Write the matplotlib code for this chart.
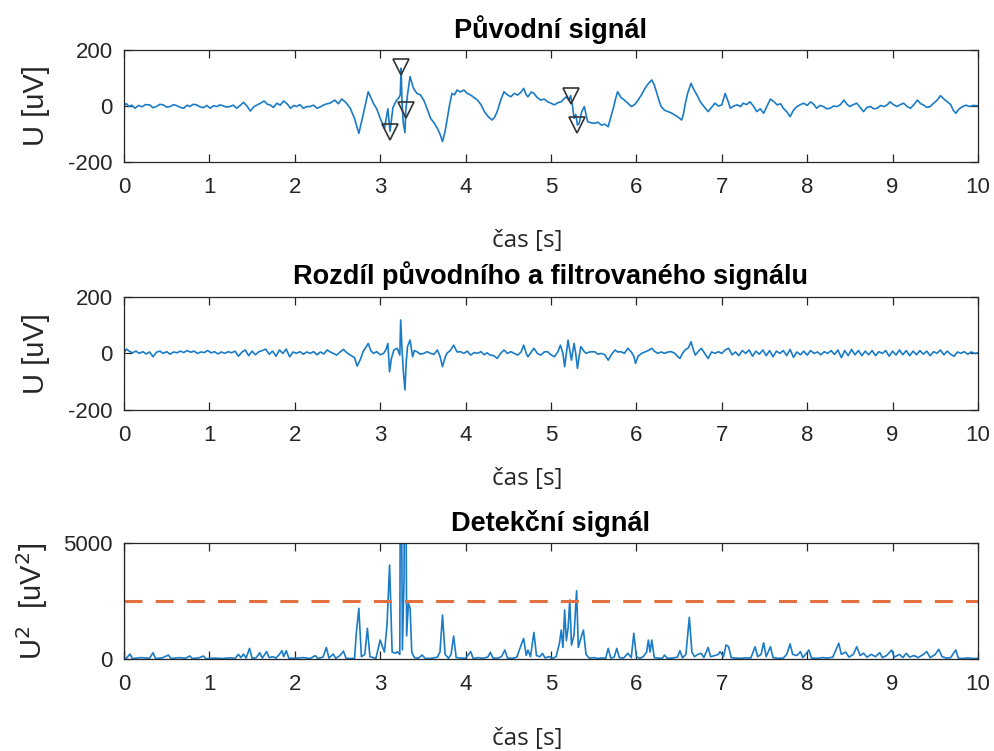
import matplotlib
matplotlib.use("Agg")
import matplotlib.pyplot as plt
import numpy as np

plt.rcParams["axes.unicode_minus"] = False

# ---------------- data ----------------
t_orig = [0.000, 0.004, 0.03, 0.06, 0.09, 0.13, 0.17, 0.21, 0.25, 0.30, 0.34, 0.38, 0.42, 0.46, 0.50,
          0.54, 0.58, 0.62, 0.66, 0.70, 0.74, 0.77, 0.81, 0.85, 0.89, 0.93, 0.97, 1.01, 1.05, 1.09,
          1.12, 1.16, 1.20, 1.24, 1.28, 1.32, 1.36, 1.40, 1.44, 1.48, 1.52, 1.56, 1.60, 1.64, 1.68,
          1.71, 1.75, 1.79, 1.83, 1.87, 1.91, 1.95, 1.99, 2.02, 2.06, 2.10, 2.14, 2.18, 2.22, 2.26,
          2.30, 2.34, 2.38, 2.41, 2.47, 2.51, 2.55, 2.60, 2.65, 2.70, 2.75, 2.80, 2.86, 2.92, 2.96,
          3.00, 3.05, 3.09, 3.115, 3.15, 3.19, 3.22, 3.235, 3.245, 3.255, 3.27, 3.29, 3.30, 3.32, 3.35,
          3.39, 3.43, 3.47, 3.51, 3.55, 3.59, 3.63, 3.67, 3.70, 3.73, 3.76, 3.78, 3.81, 3.84, 3.87,
          3.90, 3.94, 3.98, 4.02, 4.06, 4.10, 4.14, 4.18, 4.22, 4.27, 4.31, 4.34, 4.37, 4.41, 4.45,
          4.49, 4.53, 4.57, 4.61, 4.65, 4.68, 4.71, 4.73, 4.77, 4.80, 4.84, 4.88, 4.92, 4.96, 5.00,
          5.04, 5.08, 5.12, 5.15, 5.18, 5.21, 5.23, 5.25, 5.27, 5.29, 5.31, 5.33, 5.36, 5.39, 5.41,
          5.43, 5.47, 5.51, 5.55, 5.59, 5.63, 5.67, 5.70, 5.73, 5.76, 5.78, 5.82, 5.86, 5.90, 5.94,
          5.98, 6.02, 6.06, 6.10, 6.14, 6.18, 6.21, 6.24, 6.27, 6.29, 6.33, 6.37, 6.41, 6.45, 6.49,
          6.53, 6.55, 6.57, 6.60, 6.64, 6.67, 6.71, 6.74, 6.76, 6.80, 6.84, 6.88, 6.92, 6.96, 7.00,
          7.04, 7.07, 7.10, 7.14, 7.18, 7.22, 7.25, 7.29, 7.33, 7.37, 7.41, 7.45, 7.49, 7.53, 7.57,
          7.61, 7.65, 7.69, 7.72, 7.76, 7.80, 7.84, 7.88, 7.92, 7.96, 8.00, 8.04, 8.08, 8.11, 8.15,
          8.19, 8.23, 8.27, 8.31, 8.35, 8.39, 8.43, 8.47, 8.50, 8.54, 8.58, 8.62, 8.66, 8.70, 8.74,
          8.78, 8.82, 8.86, 8.90, 8.94, 8.97, 9.01, 9.05, 9.09, 9.13, 9.17, 9.21, 9.25, 9.29, 9.33,
          9.36, 9.40, 9.44, 9.48, 9.52, 9.56, 9.60, 9.64, 9.68, 9.71, 9.74, 9.78, 9.82, 9.86, 9.90,
          9.94, 9.99, 10.0]
u_orig = [-200, 5, 8, -2, 3, -8, 2, -3, 5, 4, -6, -2, 6, 4, -4,
          -2, 5, 1, -5, -8, 3, -2, 6, 4, -3, -6, 2, -8, 1, -2,
          4, 1, -4, -2, 3, -8, 2, 13, 0, -18, -3, 4, 10, 18, 6,
          4, -5, 10, 3, 18, 8, -8, 2, -2, 5, -8, -2, -2, 3, -8,
          -3, 4, 8, 10, 21, 8, 25, 12, -8, -45, -98, -32, 51, 10, -10,
          -44, -80, -10, -90, -5, 20, 30, 40, 135, 20, -60, -95, -15, 40, 105,
          63, 45, 40, 21, -10, -44, -60, -80, -100, -127, -90, -56, 0, 45, 40,
          57, 50, 57, 45, 39, 30, 21, 5, -20, -40, -50, -40, -20, 20, 51,
          40, 33, 45, 39, 50, 63, 40, 33, 50, 45, 30, 21, 25, 15, 10,
          4, 12, 15, 25, 33, 20, 37, 5, -44, -30, -68, -62, -20, -2, -30,
          -56, -60, -62, -58, -68, -65, -74, -40, -8, 30, 51, 30, 21, 10, -2,
          5, 21, 40, 63, 80, 93, 75, 45, 15, -2, -15, -20, -25, -32, -40,
          -50, -30, 4, 45, 81, 60, 39, 20, 10, -5, -20, -5, 10, 0, 4,
          45, 20, -8, 0, 4, -2, 10, 5, 15, 0, -20, -10, -26, 0, 25,
          15, 4, 8, -8, -20, -38, -15, -2, 5, 10, 2, 15, 5, -8, 2,
          -2, -10, -8, 0, -2, 5, 21, 5, -2, 5, 10, -5, -20, -5, -2,
          -10, -8, 2, -2, 5, 15, 5, -2, 5, 10, -2, -8, 5, 21, 8,
          4, -5, -2, 10, 20, 37, 25, 15, 5, -15, -26, -10, -2, 3, -2,
          2, 1, 0]

# detected peaks (markers)
t_peaks = [3.115, 3.245, 3.30, 5.23, 5.30]
u_peaks = [-94, 140, -14, 37, -68]

t_diff = [0.000, 0.004, 0.03, 0.06, 0.10, 0.14, 0.18, 0.22, 0.26, 0.30, 0.34, 0.38, 0.42, 0.46, 0.50,
          0.54, 0.58, 0.62, 0.66, 0.70, 0.74, 0.78, 0.82, 0.86, 0.90, 0.94, 0.98, 1.02, 1.06, 1.10,
          1.14, 1.18, 1.22, 1.26, 1.30, 1.34, 1.38, 1.42, 1.46, 1.50, 1.54, 1.58, 1.62, 1.66, 1.70,
          1.74, 1.78, 1.82, 1.86, 1.90, 1.94, 1.98, 2.02, 2.06, 2.10, 2.14, 2.18, 2.22, 2.26, 2.30,
          2.34, 2.38, 2.41, 2.45, 2.49, 2.53, 2.57, 2.61, 2.65, 2.70, 2.73, 2.77, 2.80, 2.83, 2.86,
          2.89, 2.92, 2.96, 3.00, 3.04, 3.07, 3.09, 3.11, 3.13, 3.16, 3.20, 3.23, 3.24, 3.255, 3.27,
          3.29, 3.305, 3.32, 3.35, 3.38, 3.40, 3.43, 3.47, 3.51, 3.55, 3.59, 3.63, 3.67, 3.70, 3.73,
          3.76, 3.78, 3.82, 3.86, 3.90, 3.94, 3.98, 4.02, 4.06, 4.10, 4.14, 4.18, 4.22, 4.25, 4.29,
          4.33, 4.37, 4.41, 4.45, 4.49, 4.53, 4.57, 4.61, 4.65, 4.68, 4.71, 4.73, 4.77, 4.80, 4.84,
          4.88, 4.92, 4.96, 5.00, 5.04, 5.08, 5.11, 5.14, 5.16, 5.18, 5.20, 5.22, 5.24, 5.27, 5.29,
          5.31, 5.33, 5.35, 5.38, 5.41, 5.45, 5.51, 5.55, 5.59, 5.63, 5.67, 5.71, 5.75, 5.78, 5.82,
          5.86, 5.90, 5.94, 5.97, 5.99, 6.02, 6.06, 6.10, 6.14, 6.18, 6.21, 6.25, 6.29, 6.33, 6.37,
          6.41, 6.45, 6.48, 6.51, 6.54, 6.57, 6.61, 6.64, 6.67, 6.69, 6.72, 6.76, 6.80, 6.84, 6.88,
          6.92, 6.96, 7.00, 7.04, 7.08, 7.12, 7.16, 7.20, 7.24, 7.28, 7.32, 7.36, 7.40, 7.44, 7.48,
          7.52, 7.56, 7.60, 7.64, 7.68, 7.72, 7.76, 7.80, 7.84, 7.88, 7.92, 7.96, 8.00, 8.04, 8.08,
          8.12, 8.16, 8.20, 8.24, 8.28, 8.32, 8.36, 8.40, 8.44, 8.48, 8.52, 8.56, 8.60, 8.64, 8.68,
          8.72, 8.76, 8.80, 8.84, 8.88, 8.92, 8.96, 9.00, 9.04, 9.08, 9.12, 9.16, 9.20, 9.24, 9.28,
          9.32, 9.36, 9.40, 9.44, 9.48, 9.52, 9.56, 9.60, 9.64, 9.68, 9.72, 9.76, 9.80, 9.84, 9.88,
          9.92, 9.96, 10.0]
u_diff = [-200, 5, 15, 8, 2, 8, 0, 6, -2, 5, -12, 4, 8, 0, 6,
          -3, 5, 2, 8, 3, 10, 4, 8, 0, 5, 3, 10, 2, 6, -2,
          5, 0, 6, 2, 8, -10, 4, 12, -8, 8, -5, 6, 10, 15, -3,
          8, -10, 12, 0, 15, -12, 5, 0, 6, -3, 5, 0, 6, -5, 5,
          -2, 12, 6, 0, -6, 5, 14, 2, -6, -15, -45, -20, 6, 20, 35,
          10, 0, 6, -5, 0, 15, 35, -65, -20, 12, 18, -6, 118, 20, -59,
          -129, -30, 24, 47, -12, 10, 6, -3, 0, 6, 0, -3, 12, -10, -47,
          -15, 0, 10, 29, 5, 6, 0, 8, -6, 3, 0, 6, -5, 2, -6,
          -8, -18, 0, 12, 0, 6, 0, -6, 5, 29, 0, -12, 5, 18, 0,
          -6, 5, 6, -5, -12, 5, 29, 0, -47, 0, 47, 10, -24, 35, 0,
          -53, -10, 24, 10, 0, 5, 6, -3, 0, -5, -24, -3, 12, 5, 6,
          0, 18, 5, -10, -35, -10, 0, 5, 10, 18, 8, 0, 5, 0, 5,
          6, 0, -10, -18, 0, 12, 20, 41, 10, -6, 5, 18, 0, -18, 5,
          0, 6, 0, 12, 18, -5, 5, -8, 10, 0, 12, -10, 8, -3, 12,
          -8, 10, -12, 8, 0, 10, -8, 14, -14, 5, -5, 8, -6, 10, 0,
          5, -5, 6, 0, 10, -4, 12, -15, 10, -8, 14, -5, 10, -8, 8,
          -5, 10, -8, 6, 0, 10, -10, 8, -6, 12, -5, 10, -8, 8, -5,
          10, -3, 8, -8, 6, 0, 12, -5, 8, -3, -10, 5, 0, 6, -3,
          5, 0, 2]

t_det = [0.000, 0.004, 0.03, 0.07, 0.10, 0.20, 0.30, 0.34, 0.37, 0.45, 0.52, 0.55, 0.65, 0.72, 0.77,
         0.80, 0.88, 0.93, 0.96, 1.05, 1.15, 1.25, 1.30, 1.34, 1.37, 1.40, 1.43, 1.47, 1.50, 1.55,
         1.59, 1.62, 1.67, 1.70, 1.74, 1.78, 1.82, 1.85, 1.87, 1.90, 1.93, 2.00, 2.10, 2.18, 2.24,
         2.27, 2.33, 2.37, 2.40, 2.45, 2.48, 2.53, 2.57, 2.60, 2.66, 2.70, 2.72, 2.75, 2.78, 2.82,
         2.85, 2.88, 2.95, 3.00, 3.02, 3.05, 3.08, 3.11, 3.14, 3.18, 3.20, 3.23, 3.24, 3.26, 3.28,
         3.29, 3.31, 3.33, 3.35, 3.37, 3.40, 3.45, 3.49, 3.53, 3.60, 3.67, 3.70, 3.73, 3.76, 3.80,
         3.83, 3.86, 3.89, 3.95, 4.00, 4.06, 4.09, 4.15, 4.20, 4.26, 4.29, 4.32, 4.38, 4.42, 4.46,
         4.49, 4.55, 4.60, 4.65, 4.68, 4.71, 4.73, 4.76, 4.80, 4.83, 4.87, 4.90, 4.93, 4.98, 5.02,
         5.06, 5.10, 5.12, 5.14, 5.16, 5.18, 5.20, 5.22, 5.24, 5.27, 5.30, 5.32, 5.35, 5.38, 5.41,
         5.45, 5.50, 5.55, 5.60, 5.64, 5.67, 5.70, 5.74, 5.77, 5.80, 5.85, 5.90, 5.94, 5.97, 6.00,
         6.04, 6.08, 6.12, 6.14, 6.16, 6.18, 6.21, 6.26, 6.30, 6.33, 6.36, 6.42, 6.48, 6.51, 6.54,
         6.58, 6.62, 6.65, 6.68, 6.72, 6.76, 6.79, 6.84, 6.87, 6.92, 6.96, 6.98, 7.02, 7.05, 7.08,
         7.11, 7.16, 7.22, 7.28, 7.34, 7.39, 7.42, 7.46, 7.49, 7.52, 7.57, 7.60, 7.66, 7.72, 7.76,
         7.80, 7.83, 7.88, 7.92, 7.95, 8.02, 8.05, 8.12, 8.18, 8.24, 8.30, 8.37, 8.40, 8.45, 8.49,
         8.54, 8.58, 8.62, 8.66, 8.70, 8.75, 8.80, 8.85, 8.88, 8.93, 8.99, 9.02, 9.08, 9.12, 9.16,
         9.20, 9.25, 9.30, 9.36, 9.40, 9.44, 9.50, 9.54, 9.58, 9.63, 9.68, 9.74, 9.77, 9.82, 9.88,
         9.94, 10.0]
u_det = [40000, 0, 40, 215, 20, 60, 30, 270, 20, 50, 170, 20, 60, 30, 130,
         20, 50, 130, 10, 40, 20, 50, 20, 200, 60, 215, 40, 460, 30, 60,
         270, 40, 320, 60, 100, 40, 200, 360, 100, 360, 40, 30, 60, 20, 145,
         20, 80, 500, 40, 215, 30, 150, 345, 30, 20, 30, 1100, 2190, 100, 200,
         1325, 100, 30, 820, 600, 300, 1470, 4060, 300, 250, 320, 200, 13900, 400, 3500,
         16600, 1000, 2400, 2200, 300, 60, 40, 170, 20, 30, 80, 300, 1900, 200, 30,
         200, 990, 60, 40, 30, 320, 20, 60, 30, 80, 290, 40, 40, 100, 390,
         40, 30, 80, 600, 890, 150, 390, 100, 1150, 150, 100, 245, 50, 100, 30,
         100, 700, 1250, 500, 2120, 800, 1325, 2550, 600, 1040, 2950, 500, 900, 1250, 200,
         30, 60, 20, 50, 30, 460, 40, 80, 460, 60, 40, 250, 60, 1110, 100,
         30, 100, 300, 820, 300, 820, 60, 40, 20, 170, 30, 40, 80, 360, 50,
         200, 1800, 300, 100, 200, 245, 60, 500, 100, 150, 200, 320, 100, 605, 530,
         60, 40, 30, 50, 40, 530, 100, 200, 700, 100, 530, 60, 30, 40, 200,
         650, 200, 150, 320, 60, 390, 40, 30, 60, 40, 80, 680, 200, 300, 80,
         200, 530, 150, 250, 80, 200, 100, 275, 60, 150, 390, 80, 200, 60, 245,
         80, 150, 60, 200, 320, 60, 200, 420, 100, 40, 60, 390, 30, 20, 50,
         20, 30]

threshold = 2500

titles = ["Původní signál", "Rozdíl původního a filtrovaného signálu", "Detekční signál"]
xlabel = "čas [s]"
ylabels = ["U [uV]", "U [uV]", "U$^2$  [uV$^2$]"]
xticks = [0, 1, 2, 3, 4, 5, 6, 7, 8, 9, 10]
yticks_u = [-200, 0, 200]
yticks_det = [0, 5000]

# ---------------- styling ----------------
BLUE = "#1A7BC6"
ORANGE = "#E2713F"
AXC = "#262626"
TICKFONT = "Liberation Sans"

fig = plt.figure(figsize=(9.95, 7.51), dpi=100)
rects = [(0.1246, 0.7843, 0.8583, 0.1491),
         (0.1246, 0.4540, 0.8583, 0.1509),
         (0.1246, 0.1225, 0.8583, 0.1541)]
axes = [fig.add_axes(r) for r in rects]

axes[0].plot(t_orig, u_orig, color=BLUE, lw=1.2)
axes[0].plot(t_peaks, u_peaks, linestyle="none", marker="v", ms=12,
             mfc="none", mec="#333333", mew=1.2)
axes[1].plot(t_diff, u_diff, color=BLUE, lw=1.2)
axes[2].plot(t_det, u_det, color=BLUE, lw=1.2)
axes[2].axhline(threshold, color=ORANGE, lw=2.2, dashes=[5.9, 4.3])

label_y = [-0.60, -0.50, -0.585]
for i, ax in enumerate(axes):
    ax.set_xlim(0, 10)
    ax.set_xticks(xticks)
    if i < 2:
        ax.set_ylim(-200, 200)
        ax.set_yticks(yticks_u)
    else:
        ax.set_ylim(0, 5000)
        ax.set_yticks(yticks_det)
    for sp in ax.spines.values():
        sp.set_color(AXC)
        sp.set_linewidth(0.9)
    ax.tick_params(axis="both", direction="in", length=6, width=0.9, color=AXC,
                   labelcolor=AXC, labelsize=16, top=True, right=True)
    ax.tick_params(axis="x", pad=11)
    ax.tick_params(axis="y", pad=8)
    for lab in ax.get_xticklabels() + ax.get_yticklabels():
        lab.set_fontfamily(TICKFONT)
    ax.set_title(titles[i], fontsize=19.5, fontweight="bold", family=TICKFONT,
                 color="black", pad=9)
    ax.set_xlabel(xlabel, fontsize=17.5, family="Open Sans", color=AXC)
    ax.xaxis.set_label_coords(0.472, label_y[i])
    ax.set_ylabel(ylabels[i], fontsize=21, family=TICKFONT, color=AXC)
    ax.yaxis.set_label_coords(-0.087, 0.5)

fig.savefig("out.png", dpi=100)
